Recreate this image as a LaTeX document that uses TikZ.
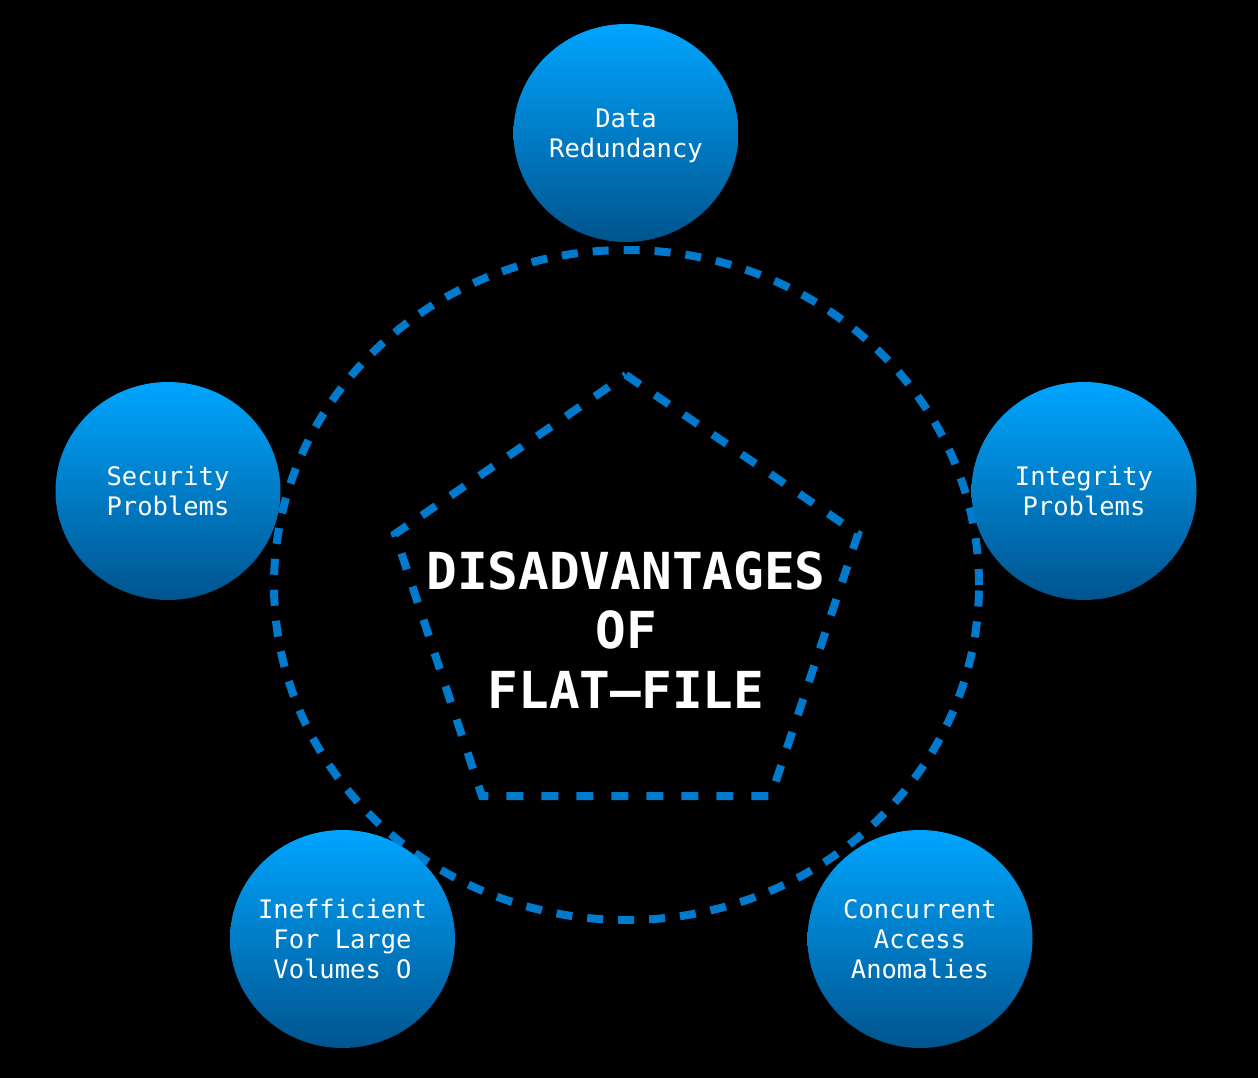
\documentclass[tikz,border=0pt]{standalone}
\usepackage{fontspec}
\newfontfamily\monofont{DejaVu Sans Mono}
\usetikzlibrary{shapes.geometric}
\definecolor{dashblue}{RGB}{0,122,204}
\definecolor{topblue}{RGB}{0,165,255}
\definecolor{botblue}{RGB}{0,84,142}
\begin{document}
\begin{tikzpicture}[x=1pt,y=-1pt,
  bubble/.style={ellipse, minimum width=225pt, minimum height=218pt, inner sep=0pt,
    top color=topblue, bottom color=botblue, draw=none},
  bubbletext/.style={text=white, align=center, inner sep=0pt, text depth=0pt,
    font=\monofont\fontsize{25.5}{30}\selectfont},
  ring/.style={draw=dashblue, line width=8pt, dash pattern=on 16pt off 15pt},
  titletext/.style={text=white, align=center,
    font=\monofont\bfseries\fontsize{51}{59.5}\selectfont}]
\fill[black] (0,0) rectangle (1258,1078);
\useasboundingbox (0,0) rectangle (1258,1078);
\draw[ring] (626.5,585) ellipse [x radius=352.5pt, y radius=335pt];
\draw[ring, dash pattern=on 17pt off 18pt] (626,375) -- (858,534) -- (771,796) -- (482,796) -- (395,534) -- cycle;
\node[bubble] (red) at (626,133) {};
\node[bubble] (sec) at (168,491) {};
\node[bubble] (int) at (1084,491) {};
\node[bubble] (ineff) at (342.5,939) {};
\node[bubble] (conc) at (920,939) {};
\node[bubbletext] (redt) at (red) {Data\\Redundancy};
\node[bubbletext] (sect) at (sec) {Security\\Problems};
\node[bubbletext] (intt) at (int) {Integrity\\Problems};
\node[bubbletext] (inefft) at (ineff) {Inefficient\\For Large\\Volumes O};
\node[bubbletext] (conct) at (conc) {Concurrent\\Access\\Anomalies};
\node[titletext] (title) at (626,630) {DISADVANTAGES\\OF\\FLAT—FILE};
\end{tikzpicture}
\end{document}
